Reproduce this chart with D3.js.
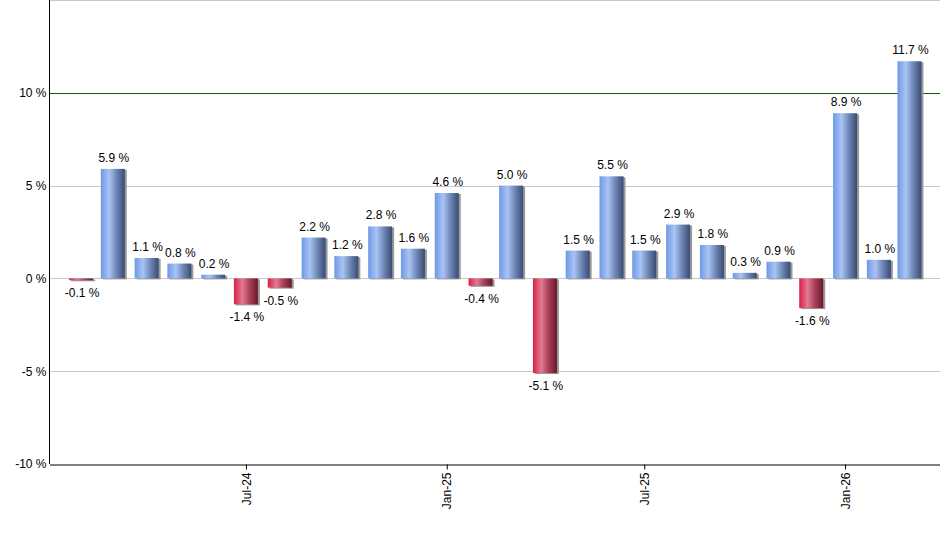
<!DOCTYPE html>
<html>
<head>
<meta charset="utf-8">
<script src="https://cdn.jsdelivr.net/npm/d3@7"></script>
<style>
  body { margin: 0; background: #fff; }
  text { font-family: "Liberation Sans", Arial, sans-serif; }
</style>
</head>
<body>
<div id="chart"></div>
<script>
// data: monthly returns (%), one bar per month
const months = ["2024-02", "2024-03", "2024-04", "2024-05", "2024-06", "2024-07", "2024-08",
                "2024-09", "2024-10", "2024-11", "2024-12", "2025-01", "2025-02", "2025-03",
                "2025-04", "2025-05", "2025-06", "2025-07", "2025-08", "2025-09", "2025-10",
                "2025-11", "2025-12", "2026-01", "2026-02", "2026-03"];
const returns = [-0.1, 5.9, 1.1, 0.8, 0.2, -1.4, -0.5, 2.2, 1.2, 2.8, 1.6, 4.6, -0.4, 5.0,
                 -5.1, 1.5, 5.5, 1.5, 2.9, 1.8, 0.3, 0.9, -1.6, 8.9, 1.0, 11.7];
const yTicks = [-10, -5, 0, 5, 10, 15];
const xTicks = ["2024-07", "2025-01", "2025-07", "2026-01"];

const parseMonth = d3.timeParse("%Y-%m");
const data = months.map((m, i) => ({ date: parseMonth(m), value: returns[i] }));

// 1: SVG
const W = 940, H = 550;
const margin = { top: 0, right: 0, bottom: 86, left: 50 };
const svg = d3.select("#chart").append("svg")
    .attr("width", W)
    .attr("height", H);

// gradients for the bars (light stripe left of centre, dark at the right edge)
const defs = svg.append("defs");
function grad(id, stops) {
    const g = defs.append("linearGradient").attr("id", id)
        .attr("x1", "0%").attr("x2", "100%").attr("y1", "0%").attr("y2", "0%");
    stops.forEach(s => g.append("stop").attr("offset", s[0]).attr("stop-color", s[1]));
}
grad("gBlue", [["0%", "#6e98e6"], ["35%", "#a9c4f4"], ["65%", "#6f88b8"], ["100%", "#394b72"]]);
grad("gRed", [["0%", "#d91f48"], ["35%", "#e27a92"], ["65%", "#a8405a"], ["100%", "#6a1828"]]);

// 2: SCALES
const x = d3.scaleTime()
    .domain([new Date(2024, 0, 3), new Date(2026, 2, 29)])
    .range([margin.left - 0.5, W]);

const y = d3.scaleLinear()
    .domain([-10, 15])
    .range([H - margin.bottom, margin.top]);

// 3: GRIDLINES
svg.append("g").selectAll("line")
    .data(yTicks.filter(t => t > -10))
    .enter().append("line")
    .attr("x1", margin.left).attr("x2", W)
    .attr("y1", d => Math.round(y(d)) + 0.5).attr("y2", d => Math.round(y(d)) + 0.5)
    .attr("stroke", d => d === 10 ? "#006400" : "#c8c8c8")
    .attr("stroke-width", 1);

// 4: BARS
const barW = 24;
const bars = svg.append("g").selectAll("g")
    .data(data)
    .enter().append("g");

bars.append("rect") // shadow
    .attr("x", d => x(d.date) - barW / 2 + 2)
    .attr("y", d => Math.min(y(d.value), y(0)) + 1)
    .attr("width", barW)
    .attr("height", d => Math.abs(y(d.value) - y(0)))
    .attr("fill", "#9a9a9a");

bars.append("rect")
    .attr("x", d => x(d.date) - barW / 2)
    .attr("y", d => Math.min(y(d.value), y(0)))
    .attr("width", barW)
    .attr("height", d => Math.abs(y(d.value) - y(0)))
    .attr("fill", d => d.value < 0 ? "url(#gRed)" : "url(#gBlue)");

bars.append("text")
    .attr("x", d => x(d.date) + 1)
    .attr("y", d => d.value < 0 ? y(d.value) + 17 : y(d.value) - 7)
    .attr("text-anchor", "middle")
    .attr("font-size", 12)
    .attr("fill", "#000")
    .text(d => d.value.toFixed(1) + " %");

// 5: AXES
const yAxis = svg.append("g")
    .attr("transform", `translate(${margin.left - 0.5},0)`)
    .call(d3.axisLeft(y).tickValues(yTicks.filter(t => t < 15)).tickSize(0).tickPadding(3)
        .tickFormat(d => d + " %"));
yAxis.select(".domain").attr("stroke", "#000").attr("d", `M0,0V${H - margin.bottom}`);
yAxis.selectAll("text").attr("font-size", 12).attr("fill", "#000")
    .attr("font-family", "Liberation Sans, Arial, sans-serif");

const xAxis = svg.append("g")
    .attr("transform", `translate(0,${Math.round(y(-10)) + 0.5})`)
    .call(d3.axisBottom(x).tickValues(xTicks.map(parseMonth)).tickSize(5).tickSizeOuter(0)
        .tickFormat(d3.timeFormat("%b-%y")));
xAxis.select(".domain").attr("stroke", "#000");
xAxis.selectAll(".tick line").attr("stroke", "#000");
xAxis.selectAll("text")
    .attr("font-size", 12).attr("fill", "#000")
    .attr("font-family", "Liberation Sans, Arial, sans-serif")
    .attr("transform", "rotate(-90)")
    .attr("text-anchor", "end")
    .attr("x", -8).attr("y", 0).attr("dy", "0.35em");
</script>
</body>
</html>
